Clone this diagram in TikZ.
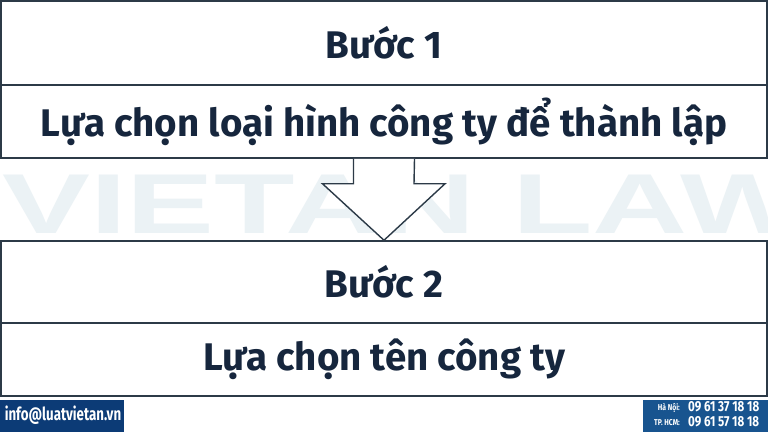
\documentclass[tikz,border=0pt]{standalone}
\usepackage{fontspec}
\usepackage{graphicx}
\setmainfont{Fira Sans}
\newfontfamily\wmfont{Liberation Sans}
\usetikzlibrary{calc}
\definecolor{txtnavy}{HTML}{16263D}
\definecolor{boxline}{HTML}{2C3A47}
\definecolor{wmgrey}{HTML}{EBF2F5}
\definecolor{footblue}{HTML}{0C3B76}
\definecolor{footblueb}{HTML}{18548F}
\tikzset{
  stepbox/.style={draw=boxline, line width=1.5pt, fill=white, rectangle, inner sep=0pt,
    minimum width=766pt, text=txtnavy, font=\fontsize{38.5}{44}\selectfont\bfseries},
  bigarrow/.style={draw=boxline, line width=1.4pt, fill=white, line join=miter},
  foottext/.style={text=white, inner sep=0pt, font=\bfseries}
}
\begin{document}
\begin{tikzpicture}[x=1pt,y=-1pt]
\useasboundingbox (0,0) rectangle (768,432);
\fill[white] (0,0) rectangle (768,432);
% watermark
\node[text=wmgrey, inner sep=0pt, anchor=base west] (wm) at (2,233)
  {\scalebox{1.55}[1]{\wmfont\fontsize{85}{90}\selectfont\bfseries VIETAN LAW}};
% boxes
\node[stepbox, minimum height=84pt] (b1) at (384,43) {Bước 1};
\node[stepbox, minimum height=73pt] (b2) at (384,121.5) {Lựa chọn loại hình công ty để thành lập};
\node[stepbox, minimum height=82pt] (b3) at (384,282) {Bước 2};
\node[stepbox, minimum height=73pt] (b4) at (384,359.5) {Lựa chọn tên công ty};
% arrow
\draw[bigarrow] ($(b2.south)+(-30.5,0)$) -- ++(0,25) -- ++(-31,0) -- (b3.north)
  -- ($(b2.south)+(61,25)$) -- ++(-31,0) -- ($(b2.south)+(30.5,0)$);
% footer
\fill[footblue] (0,400) rectangle (124,432);
\node[foottext, font=\fontsize{18}{20}\selectfont\bfseries] (mail) at (63,415)
  {\scalebox{0.74}[1]{info@luatvietan.vn}};
\fill[footblueb] (643,400) rectangle (768,432);
\node[foottext, anchor=base east, font=\fontsize{8.5}{10}\selectfont\bfseries] (hn) at (680,410)
  {\scalebox{0.8}[1]{Hà Nội:}};
\node[foottext, anchor=base east, font=\fontsize{8.5}{10}\selectfont\bfseries] (hcm) at (680,425.5)
  {\scalebox{0.8}[1]{TP. HCM:}};
\node[foottext, anchor=base west, font=\fontsize{14.5}{16}\selectfont\bfseries] (p1) at (688,411)
  {\scalebox{0.8}[1]{09 61 37 18 18}};
\node[foottext, anchor=base west, font=\fontsize{14.5}{16}\selectfont\bfseries] (p2) at (688,426.5)
  {\scalebox{0.8}[1]{09 61 57 18 18}};
\end{tikzpicture}
\end{document}
